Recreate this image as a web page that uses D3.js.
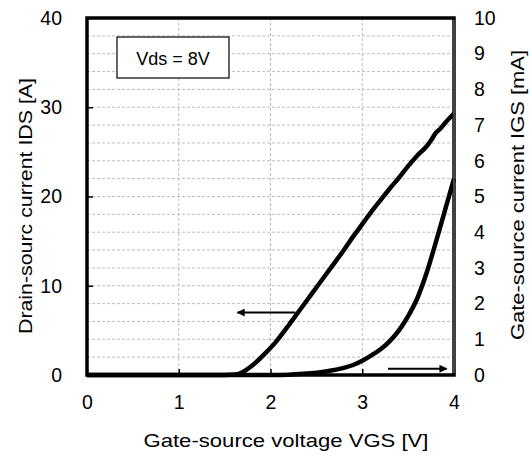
<!DOCTYPE html>
<html>
<head>
<meta charset="utf-8">
<script src="https://cdn.jsdelivr.net/npm/d3@7"></script>
<style>
  html, body { margin: 0; padding: 0; background: #fff; }
  svg { display: block; font-family: "Liberation Sans", Arial, sans-serif; }
</style>
</head>
<body>
<svg id="chart" width="529" height="456"></svg>
<script>
// Transfer characteristic at Vds = 8 V
const vgsIds = [0, 0.5, 1.0, 1.5, 1.62, 1.7, 1.78, 1.86, 1.95, 2.05, 2.2, 2.3, 2.4, 2.5, 2.6, 2.7, 2.8, 2.9, 3.0, 3.1, 3.2, 3.3, 3.4, 3.5, 3.6, 3.7, 3.75, 3.8, 3.85, 3.9, 4.0];
const ids    = [0, 0,   0,   0,   0.05, 0.35, 0.9, 1.6, 2.5, 3.6, 5.6, 7.0, 8.4, 9.8, 11.2, 12.6, 14.0, 15.5, 16.9, 18.3, 19.6, 20.9, 22.1, 23.4, 24.6, 25.6, 26.3, 27.1, 27.6, 28.2, 29.3];

const vgsIgs = [0, 1.0, 2.0, 2.2, 2.4, 2.6, 2.8, 2.9, 3.0, 3.1, 3.2, 3.3, 3.4, 3.5, 3.6, 3.7, 3.8, 3.9, 4.0];
const igs    = [0, 0,   0,   0.01, 0.04, 0.1, 0.2, 0.28, 0.4, 0.55, 0.72, 0.95, 1.25, 1.65, 2.15, 2.85, 3.7, 4.6, 5.5];

const xTicks = [0, 1, 2, 3, 4];
const leftTicks = [0, 10, 20, 30, 40];
const rightTicks = [0, 1, 2, 3, 4, 5, 6, 7, 8, 9, 10];
const hGrid = d3.range(2, 40, 2);
const vGrid = [1, 2, 3];

// Arrow markers: [vgs, ids] start and end, on the left-axis scale
const arrowToIds = [[2.27, 7.0], [1.64, 7.0]];
const arrowToIgs = [[3.28, 0.7], [3.92, 0.7]];

const svg = d3.select("#chart");
const L = 87, R = 454, T = 18, B = 375;

const x = d3.scaleLinear().domain([0, 4]).range([L, R]);
const yL = d3.scaleLinear().domain([0, 40]).range([B, T]);
const yR = d3.scaleLinear().domain([0, 10]).range([B, T]);

// grid
svg.append("g").selectAll("line").data(hGrid).join("line")
  .attr("x1", L).attr("x2", R)
  .attr("y1", d => yL(d)).attr("y2", d => yL(d))
  .attr("stroke", "#bdbdbd").attr("stroke-width", 1).attr("stroke-dasharray", "3,2");
svg.append("g").selectAll("line").data(vGrid).join("line")
  .attr("y1", T).attr("y2", B)
  .attr("x1", d => x(d)).attr("x2", d => x(d))
  .attr("stroke", "#bdbdbd").attr("stroke-width", 1).attr("stroke-dasharray", "3,2");

// axes (ticks point inward)
const fontSize = "19.5px";
const axL = svg.append("g").attr("transform", `translate(${L},0)`)
  .call(d3.axisLeft(yL).tickValues(leftTicks).tickSize(-6).tickPadding(25).tickFormat(d3.format("d")));
const axR = svg.append("g").attr("transform", `translate(${R},0)`)
  .call(d3.axisRight(yR).tickValues(rightTicks).tickSize(0).tickPadding(20).tickFormat(d3.format("d")));
const axB = svg.append("g").attr("transform", `translate(0,${B})`)
  .call(d3.axisBottom(x).tickValues(xTicks).tickSize(-6).tickPadding(20).tickFormat(d3.format("d")));
[axL, axR, axB].forEach(a => {
  a.select(".domain").remove();
  a.selectAll("text").attr("font-size", fontSize).attr("fill", "#000")
    .attr("font-family", '"Liberation Sans", Arial, sans-serif');
  a.selectAll("line").attr("stroke", "#000").attr("stroke-width", 1.5);
});

// Vds label box
svg.append("rect").attr("x", 117).attr("y", 37).attr("width", 112).attr("height", 41)
  .attr("fill", "#fff").attr("stroke", "#000").attr("stroke-width", 1.2);
svg.append("text").attr("x", 173).attr("y", 64.5).attr("text-anchor", "middle")
  .attr("font-size", "18px").text("Vds = 8V");

// curves
const lineIds = d3.line().x((d, i) => x(vgsIds[i])).y(d => yL(d)).curve(d3.curveMonotoneX);
const lineIgs = d3.line().x((d, i) => x(vgsIgs[i])).y(d => yR(d)).curve(d3.curveMonotoneX);
svg.append("path").datum(ids).attr("d", lineIds)
  .attr("fill", "none").attr("stroke", "#000").attr("stroke-width", 4.5).attr("stroke-linejoin", "round");
svg.append("path").datum(igs).attr("d", lineIgs)
  .attr("fill", "none").attr("stroke", "#000").attr("stroke-width", 4.5).attr("stroke-linejoin", "round");

// arrows
const defs = svg.append("defs");
defs.append("marker").attr("id", "head").attr("viewBox", "0 0 10 10")
  .attr("refX", 9).attr("refY", 5).attr("markerWidth", 4.5).attr("markerHeight", 4)
  .attr("orient", "auto").attr("markerUnits", "strokeWidth")
  .append("path").attr("d", "M0,0 L10,5 L0,10 Z").attr("fill", "#000");
[arrowToIds, arrowToIgs].forEach(a => {
  svg.append("line")
    .attr("x1", x(a[0][0])).attr("y1", yL(a[0][1]))
    .attr("x2", x(a[1][0])).attr("y2", yL(a[1][1]))
    .attr("stroke", "#000").attr("stroke-width", 2).attr("marker-end", "url(#head)");
});

// frame
svg.append("rect").attr("x", L).attr("y", T).attr("width", R - L).attr("height", B - T)
  .attr("fill", "none").attr("stroke", "#000").attr("stroke-width", 3.5);
svg.append("line").attr("x1", R).attr("x2", R).attr("y1", T + 2).attr("y2", B - 2)
  .attr("stroke", "#888").attr("stroke-width", 1);

// titles
svg.append("text").attr("x", 286).attr("y", 447).attr("text-anchor", "middle")
  .attr("font-size", "19px").attr("textLength", 285).attr("lengthAdjust", "spacingAndGlyphs")
  .text("Gate-source voltage VGS [V]");
svg.append("text").attr("transform", "translate(32,206) rotate(-90)").attr("text-anchor", "middle")
  .attr("font-size", "19px").attr("textLength", 256).attr("lengthAdjust", "spacingAndGlyphs")
  .text("Drain-sourc current IDS [A]");
svg.append("text").attr("transform", "translate(524,195) rotate(-90)").attr("text-anchor", "middle")
  .attr("font-size", "19px").attr("textLength", 290).attr("lengthAdjust", "spacingAndGlyphs")
  .text("Gate-source current IGS [mA]");
</script>
</body>
</html>
